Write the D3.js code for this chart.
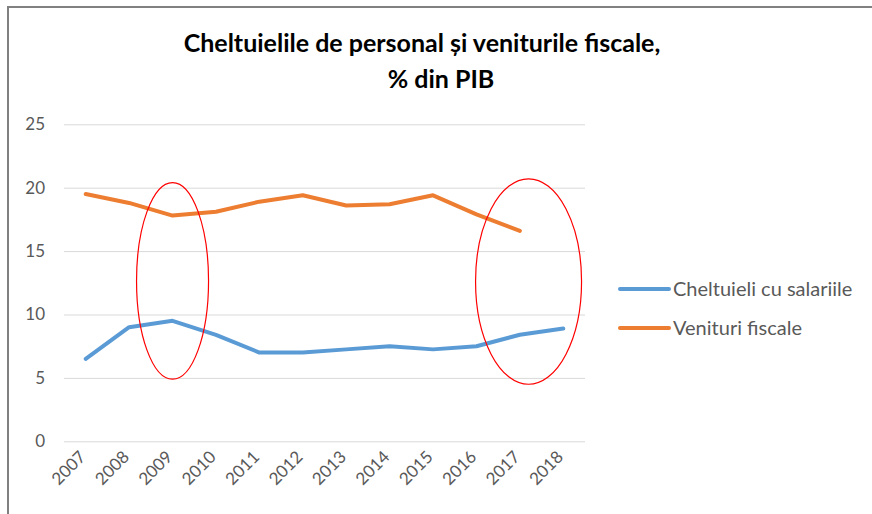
<!DOCTYPE html>
<html>
    <head>
        <meta charset="utf-8">
        <style>
            html, body {
                margin: 0px;
                padding: 0px;
                background-color: #fff;
            }

            svg text {
                font-family: Lato, "Open Sans", sans-serif;
                fill: #595959;
            }

            .title {
                font-weight: bold;
                fill: #000;
                font-size: 25px;
            }

            .grid line {
                stroke: #d9d9d9;
                stroke-width: 1px;
            }

            .grid .domain {
                stroke: none;
            }

            .series {
                fill: none;
                stroke-width: 4px;
                stroke-linejoin: round;
                stroke-linecap: round;
            }

            .highlight {
                fill: none;
                stroke: #ff0000;
                stroke-width: 1.2px;
            }
        </style>
        <script src="https://cdnjs.cloudflare.com/ajax/libs/d3/7.8.5/d3.min.js"></script>
    </head>
    <body>
        <div id="main"></div>

        <script>
            var years = ["2007", "2008", "2009", "2010", "2011", "2012", "2013", "2014", "2015", "2016", "2017", "2018"];
            var salaryValues = [6.5, 9.0, 9.5, 8.4, 7.0, 7.0, 7.25, 7.5, 7.25, 7.5, 8.4, 8.9];
            var revenueValues = [19.5, 18.8, 17.8, 18.1, 18.9, 19.4, 18.6, 18.7, 19.4, 17.9, 16.6, null];
            var seriesNames = ["Cheltuieli cu salariile", "Venituri fiscale"];
            var seriesColors = ["#5b9bd5", "#ed7d31"];
            var yTicks = [0, 5, 10, 15, 20, 25];
            var titleLines = ["Cheltuielile de personal și veniturile fiscale,", "% din PIB"];
            // ellipses drawn on the original: centre year, value span
            var highlightYears = ["2009", "2017"];
            var highlightTop = [20.4, 20.7];
            var highlightBottom = [4.9, 4.5];

            var width = 872;
            var height = 514;

            var svg = d3.select("#main")
                        .append("svg")
                        .attr("width", width)
                        .attr("height", height);

            // frame, cropped at the right and bottom
            svg.append("path")
                .attr("d", "M8,514 V7 H872")
                .attr("fill", "none")
                .attr("stroke", "#808080")
                .attr("stroke-width", 2);

            var x = d3.scalePoint().domain(years).range([64, 585]).padding(0.5);
            var y = d3.scaleLinear().domain([0, 25]).range([441.3, 124.3]);

            svg.append("g")
                .attr("class", "grid")
                .attr("transform", "translate(64,0)")
                .call(d3.axisRight(y).tickValues(yTicks).tickSize(521).tickFormat(""));

            svg.append("g")
                .selectAll("text")
                .data(yTicks)
                .enter()
                .append("text")
                .attr("x", 45)
                .attr("y", function(d) { return y(d); })
                .attr("dy", "0.35em")
                .style("text-anchor", "end")
                .style("font-size", "17px")
                .text(function(d) { return d; });

            svg.append("g")
                .selectAll("text")
                .data(years)
                .enter()
                .append("text")
                .attr("transform", function(d) { return "translate(" + (x(d) + 1) + ",458) rotate(-45)"; })
                .style("text-anchor", "end")
                .style("font-size", "17px")
                .text(function(d) { return d; });

            var line = d3.line()
                .defined(function(d) { return d.v !== null; })
                .x(function(d) { return x(d.year); })
                .y(function(d) { return y(d.v); });

            [salaryValues, revenueValues].forEach(function(values, i) {
                var pts = years.map(function(yr, j) { return {year: yr, v: values[j]}; });
                svg.append("path")
                    .datum(pts)
                    .attr("class", "series")
                    .attr("stroke", seriesColors[i])
                    .attr("d", line);
            });

            var step = x.step();
            highlightYears.forEach(function(yr, i) {
                var cx = i === 0 ? x(yr) : x(yr) + step * 0.2;
                var rx = i === 0 ? 36 : 53;
                svg.append("ellipse")
                    .attr("class", "highlight")
                    .attr("cx", cx)
                    .attr("cy", (y(highlightTop[i]) + y(highlightBottom[i])) / 2)
                    .attr("rx", rx)
                    .attr("ry", (y(highlightBottom[i]) - y(highlightTop[i])) / 2);
            });

            var legend = svg.append("g")
                .selectAll("g")
                .data(seriesNames)
                .enter()
                .append("g")
                .attr("transform", function(d, i) { return "translate(620," + (289 + i * 39) + ")"; });

            legend.append("line")
                .attr("x1", 0)
                .attr("x2", 49)
                .attr("stroke", function(d, i) { return seriesColors[i]; })
                .attr("stroke-width", 4)
                .attr("stroke-linecap", "round");

            legend.append("text")
                .attr("x", 53)
                .attr("dy", "0.35em")
                .style("font-size", "20px")
                .text(function(d) { return d; });

            svg.selectAll(".title")
                .data(titleLines)
                .enter()
                .append("text")
                .attr("class", "title")
                .attr("x", function(d, i) { return i === 0 ? 422 : 441; })
                .attr("y", function(d, i) { return 52 + i * 36; })
                .style("text-anchor", "middle")
                .text(function(d) { return d; });
        </script>
    </body>
</html>
